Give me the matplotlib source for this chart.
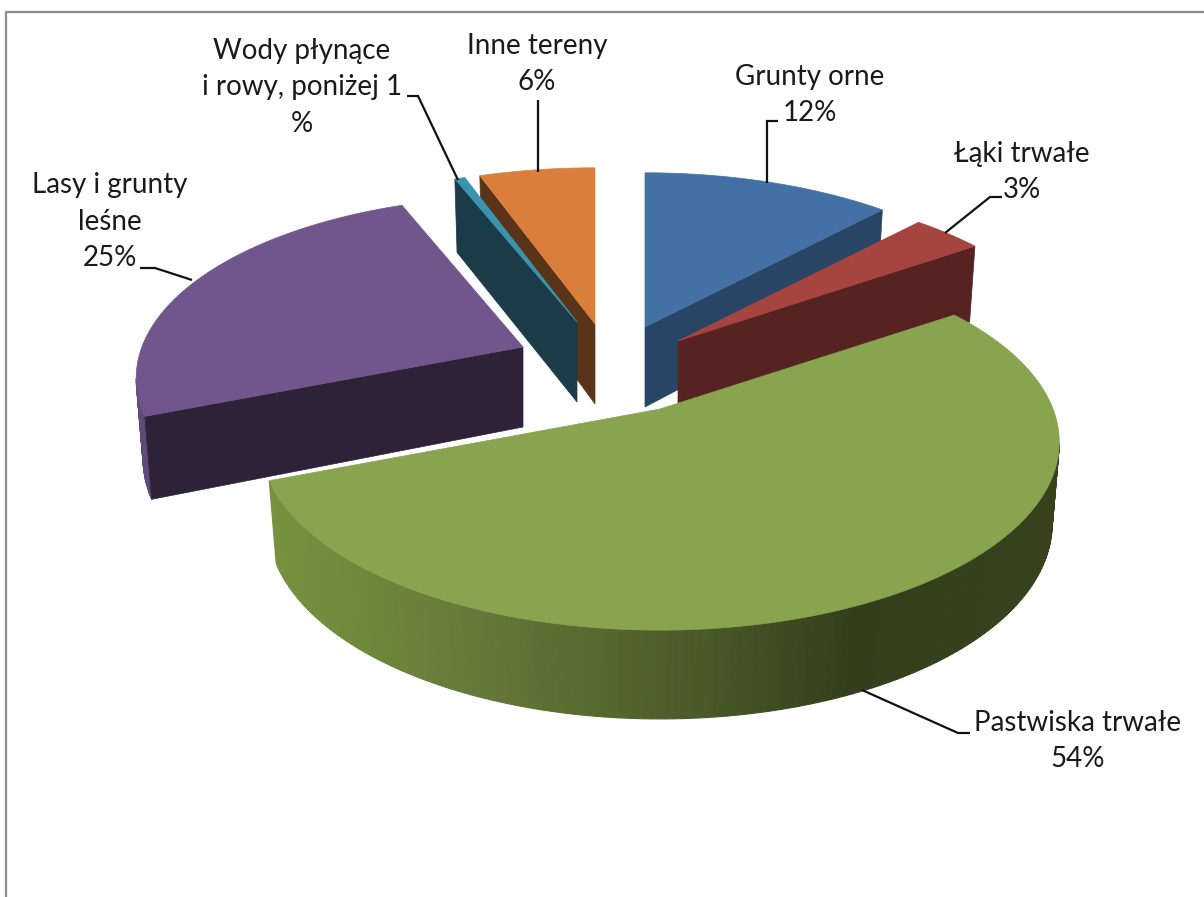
import numpy as np
import matplotlib
matplotlib.use("Agg")
import matplotlib.pyplot as plt
from matplotlib.colors import to_rgb
from matplotlib.patches import Polygon

categories = ["Grunty orne", "Łąki trwałe", "Pastwiska trwałe", "Lasy i grunty leśne",
              "Wody płynące i rowy, poniżej 1 %", "Inne tereny"]
values = [12, 3.4, 53.6, 25, 0.5, 5.5]
label_texts = ["Grunty orne\n12%", "Łąki trwałe\n3%", "Pastwiska trwałe\n54%",
               "Lasy i grunty\nleśne\n25%", "Wody płynące\ni rowy, poniżej 1\n%", "Inne tereny\n6%"]

# style / layout
top_colors = ["#4371a6", "#a64440", "#88a44f", "#70568c", "#3a94ad", "#d97f3b"]
cut_colors = ["#294565", "#572322", "#8aa650", "#2d2238", "#1a3b47", "#5a3418"]
rim_colors = ["#4371a6", "#a64440", None, "#5f4a78", "#3a94ad", "#d97f3b"]
apex = [(645, 327), (678, 341), (660, 409), (523, 347), (577, 322), (595, 324)]
radius = [0.985, 1.0, 0.99, 0.96, 0.97, 1.0]
draw_order = [5, 4, 0, 1, 3, 2]
label_pos = [(810, 95), (1022, 172), (1078, 741), (110, 222), (302, 87), (537, 64)]
leaders = [[(767, 183), (767, 121), (778, 121)],
           [(945, 233), (990, 197), (1002, 197)],
           [(862, 690), (958, 733), (970, 733)],
           [(192, 280), (155, 268), (140, 268)],
           [(458, 180), (418, 96), (407, 96)],
           [(538, 172), (538, 100)]]
A, B, K, DEPTH, DK, XSHRINK = 397.0, 184.0, 0.178, 80.0, 0.10, 0.982
rim_x = [275, 350, 480, 600, 720, 850, 1060]
rim_c = ["#76913f", "#6f8a3c", "#64793a", "#56692e", "#475627", "#333f1c", "#37421d"]

plt.rcParams["font.family"] = ["Lato", "DejaVu Sans"]
fig = plt.figure(figsize=(12.04, 8.97), dpi=100)
ax = fig.add_axes([0, 0, 1, 1])
ax.set_xlim(0, 1204)
ax.set_ylim(897, 0)
ax.axis("off")


def project(ap, u, v, lower=False):
    s = 1.0 / (1.0 + K * v)
    dx = A * u * s
    dy = -B * v * s
    if lower:
        dx = dx * XSHRINK
        dy = dy + DEPTH / (1.0 + DK * v)
    return np.column_stack([ap[0] + dx, ap[1] + dy])


def rim_color(x):
    rgb = np.array([to_rgb(c) for c in rim_c])
    return tuple(np.interp(x, rim_x, rgb[:, i]) for i in range(3))


total = sum(values)
edges = np.cumsum([0] + values) / total * 2 * np.pi

for i in draw_order:
    t = np.linspace(edges[i], edges[i + 1], max(int((edges[i + 1] - edges[i]) * 60), 4))
    u, v = radius[i] * np.sin(t), radius[i] * np.cos(t)
    ap = apex[i]
    top = project(ap, u, v)
    low = project(ap, u, v, True)
    a0 = project(ap, np.array([0.0]), np.array([0.0]))
    a1 = project(ap, np.array([0.0]), np.array([0.0]), True)
    # outer wall: only the part that faces the viewer
    for j in range(len(t) - 1):
        if np.cos((t[j] + t[j + 1]) / 2) >= -K:
            continue
        quad = np.array([top[j], top[j + 1], low[j + 1], low[j]])
        c = rim_colors[i] if rim_colors[i] else rim_color(quad[:, 0].mean())
        ax.add_patch(Polygon(quad, closed=True, fc=c, ec=c, lw=0.8, zorder=1))
    # radial cut faces that face the viewer
    if np.sin(t[0]) < -1e-6:
        quad = np.vstack([a0, top[0], low[0], a1])
        ax.add_patch(Polygon(quad, closed=True, fc=cut_colors[i], ec=cut_colors[i], lw=0.5, zorder=1))
    if np.sin(t[-1]) > 1e-6:
        quad = np.vstack([a0, top[-1], low[-1], a1])
        ax.add_patch(Polygon(quad, closed=True, fc=cut_colors[i], ec=cut_colors[i], lw=0.5, zorder=1))
    ax.add_patch(Polygon(np.vstack([a0, top]), closed=True, fc=top_colors[i], ec=top_colors[i],
                         lw=0.5, zorder=1))

for pts in leaders:
    p = np.array(pts)
    ax.plot(p[:, 0], p[:, 1], color="#111111", lw=1.6, solid_capstyle="butt",
            solid_joinstyle="miter", zorder=3)

for txt, (x, y) in zip(label_texts, label_pos):
    ax.text(x, y, txt, ha="center", va="center", fontsize=20, color="#1a1a1a",
            linespacing=1.5, zorder=4)

ax.plot([5.5, 5.5, 1204], [897, 12, 12], color="#8c8c8c", lw=1.6, solid_joinstyle="miter", zorder=5)

fig.savefig("out.png", dpi=100, facecolor="white")
